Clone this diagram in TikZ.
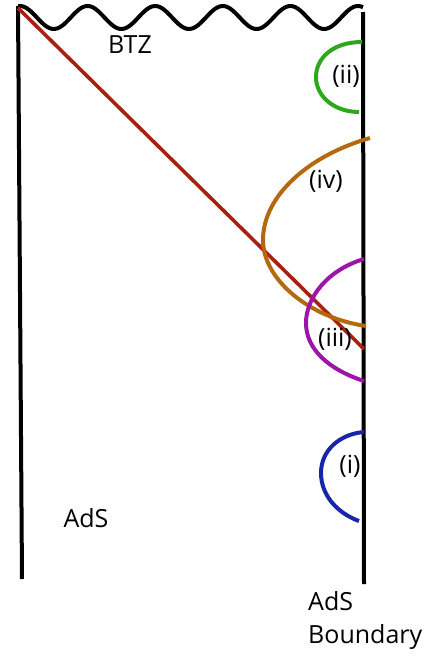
\documentclass[tikz,border=0pt]{standalone}
\usepackage{fontspec}
\setmainfont{Open Sans}
\usepackage{tikz}
\definecolor{geodRed}{HTML}{A82010}
\definecolor{regionI}{HTML}{1626A8}
\definecolor{regionII}{HTML}{2EA61E}
\definecolor{regionIII}{HTML}{9C14AA}
\definecolor{regionIV}{HTML}{B5690F}
\tikzset{
  wall/.style={draw=black, line width=4pt},
  horizon/.style={draw=black, line width=4pt},
  geod/.style={draw=geodRed, line width=3.6pt},
  rtarc/.style={draw=#1, line width=4pt},
  tag/.style={inner sep=0pt, font=\fontsize{25}{33}\selectfont},
}
\begin{document}
\begin{tikzpicture}[x=1pt, y=-1pt]
\useasboundingbox (0,0) rectangle (429,656);

% Walls: left bulk edge and AdS boundary
\draw[wall] (18,6) -- (22,579);
\draw[wall] (363,12) -- (364,584);

% BTZ singularity
\draw[horizon] plot[domain=18:363, samples=160, smooth]
   (\x, {17.5 - 11.5*cos(5.3254*(\x-20))});

% Infalling geodesic
\draw[geod] (18,8) -- (364,349);

% Extremal surfaces
\draw[rtarc=regionII] (362,42) .. controls (333,42) and (316,58) .. (316,77)
   .. controls (316,97) and (335,112) .. (359,112);
\draw[rtarc=regionIV] (370,138) .. controls (310,155) and (263,195) .. (263,240)
   .. controls (263,280) and (310,318) .. (366,326);
\draw[rtarc=regionIII] (364,259) .. controls (327,270) and (306,298) .. (306,323)
   .. controls (306,350) and (330,370) .. (364,381);
\draw[rtarc=regionI] (364,432) .. controls (340,434) and (321,450) .. (321,473)
   .. controls (321,495) and (337,513) .. (359,521);

% Labels
\node[tag, anchor=base] (btz) at (130,53) {BTZ};
\node[tag, anchor=base] (ads) at (86,527) {AdS};
\node[tag, anchor=base west, align=left] (bdy) at (308,643) {AdS\\Boundary};
\node[tag] (lii) at (346,76) {(ii)};
\node[tag] (liv) at (326,181) {(iv)};
\node[tag] (liii) at (335,339) {(iii)};
\node[tag] (li) at (350,466) {(i)};

\end{tikzpicture}
\end{document}
